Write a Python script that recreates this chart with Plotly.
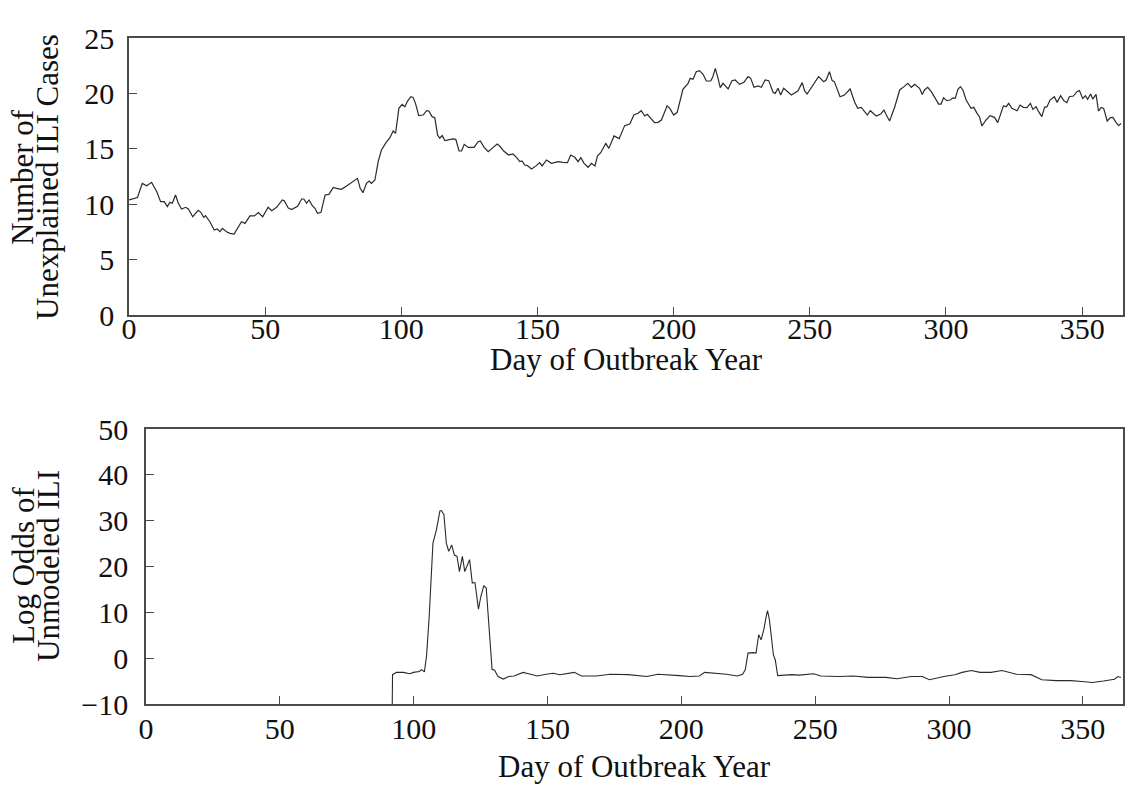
import plotly.graph_objects as go

W, H = 1129, 786

# ---- Top panel: number of unexplained ILI cases ----
top_day = [0.0, 1.6, 3.1, 4.9, 6.5, 8.3, 10.2, 11.6, 12.9, 14.1,
           15.0, 15.9, 17.1, 18.1, 19.3, 20.8, 21.8, 23.4, 25.4, 26.4,
           27.4, 28.1, 29.7, 31.3, 32.4, 33.4, 34.3, 35.8, 37.1, 38.6,
           39.8, 41.3, 42.6, 44.4, 46.0, 47.5, 49.1, 51.1, 52.4, 54.2,
           56.3, 57.0, 58.5, 59.7, 61.9, 63.4, 64.2, 65.2, 66.1, 67.3,
           68.3, 69.2, 70.5, 72.0, 73.4,
           75.0, 76.2, 78.0, 79.9, 81.7, 83.9, 84.9, 85.9, 87.2, 88.2,
           89.0, 90.3, 91.5, 92.7, 94.2, 95.8, 97.0, 97.9, 99.1, 100.3,
           101.3, 102.3, 103.5, 104.3, 105.2, 106.4, 108.0, 109.3, 110.1, 111.3,
           112.3, 113.3, 114.1, 115.0, 116.0, 117.4, 119.0, 120.0, 121.2, 122.1,
           123.1, 124.6, 126.7, 128.2, 129.0, 130.4, 131.9, 133.3, 135.2, 136.1,
           137.6, 139.4, 141.0, 142.3, 143.5, 144.3,
           145.3, 146.3, 147.8, 149.6, 150.8, 151.7, 153.3, 155.1, 157.6, 159.4,
           161.0, 162.2, 163.7, 164.9, 165.9, 167.1, 168.6, 169.8, 171.1, 172.0,
           173.2, 175.1, 176.2, 178.1, 180.0, 182.0, 183.9, 185.4, 186.9, 188.1,
           189.4, 190.3, 191.6, 193.0, 194.3, 195.5, 196.5, 197.6, 198.6, 200.0,
           201.3, 202.2, 203.4, 205.3, 206.1, 207.1, 208.3, 209.5, 210.8, 212.0,
           213.6, 214.4, 215.3, 216.3, 217.1, 218.1,
           220.0, 221.4, 222.6, 224.2, 225.8, 227.3, 228.3, 229.5, 231.0, 232.2,
           233.6, 234.9, 236.5, 237.3, 238.3, 239.3, 240.4, 243.2, 245.6, 247.2,
           248.1, 249.0, 251.1, 253.2, 255.1, 256.0, 257.2, 258.2, 259.0, 261.1,
           262.7, 264.8, 266.4, 267.6, 268.9, 269.8, 271.1, 272.2, 273.4, 274.4,
           276.0, 277.2, 278.1, 279.3, 281.2, 283.0, 284.6, 286.0, 287.3, 288.5,
           290.3, 291.3,
           292.1, 293.3, 294.6, 296.0, 297.3, 298.2, 299.1, 300.3, 301.7, 302.6,
           303.4, 304.4, 305.3, 306.2, 307.4, 309.2, 310.2, 311.4, 312.3, 313.2,
           314.7, 316.2, 317.8, 319.0, 320.0, 321.1, 322.1, 323.0, 324.2, 326.1,
           327.2, 328.4, 329.7, 331.0, 331.9, 333.1, 334.0, 335.2, 336.2, 337.1,
           338.2, 339.8, 340.8, 342.1, 343.3, 344.4, 345.3, 346.8, 348.1, 349.0,
           350.2, 351.2, 352.0, 353.1, 353.9, 355.1, 356.0, 357.0, 357.9, 359.2,
           360.4, 361.3, 362.5, 363.4, 364.3]

top_cases = [10.38, 10.53, 10.6, 11.88, 11.67, 11.97, 11.13, 10.23, 10.23, 9.78,
             10.17, 10.08, 10.83, 10.08, 9.57, 9.72, 9.57, 8.87, 9.45, 9.27,
             8.81, 8.96, 8.42, 7.67, 7.76, 7.52, 7.82, 7.52, 7.37, 7.31,
             7.82, 8.42, 8.27, 8.94, 8.94, 9.24, 8.87, 9.72, 9.42, 9.72,
             10.38, 10.32, 9.66, 9.51, 9.81, 10.47, 10.47, 10.08, 10.38, 9.87,
             9.63, 9.18, 9.27, 10.83, 10.89,
             11.52, 11.43, 11.34, 11.64, 11.94, 12.33, 11.43, 11.04, 11.88, 12.09,
             11.88, 12.18, 13.84, 14.89, 15.49, 16.0, 16.61, 16.4, 18.65, 19.01,
             18.8, 19.31, 19.7, 19.64, 19.1, 17.99, 18.05, 18.44, 18.41, 17.9,
             17.81, 16.25, 15.95, 16.19, 15.74, 15.8, 15.89, 15.86, 14.8, 14.8,
             15.4, 15.13, 15.13, 15.64, 15.7, 15.13, 14.74, 15.04, 15.43, 15.25,
             14.8, 14.44, 14.53, 14.23, 13.84, 13.9,
             13.54, 13.48, 13.18, 13.48, 13.75, 13.45, 13.99, 13.69, 13.84, 13.78,
             13.75, 14.44, 14.23, 13.84, 14.2, 13.69, 13.33, 13.69, 13.45, 14.35,
             14.65, 15.49, 15.04, 16.16, 15.92, 17.09, 17.24, 18.05, 18.2, 18.44,
             17.96, 18.11, 17.75, 17.36, 17.39, 17.6, 18.2, 18.89, 18.65, 18.05,
             18.29, 19.25, 20.37, 20.91, 21.36, 21.27, 21.96, 22.05, 21.72, 21.12,
             21.12, 21.51, 22.26, 21.36, 20.52, 20.91,
             20.4, 21.15, 21.21, 20.82, 21.0, 21.51, 21.36, 20.55, 20.67, 20.55,
             21.21, 21.15, 20.1, 20.0, 20.46, 19.85, 20.46, 19.85, 20.22, 20.97,
             20.22, 19.94, 20.76, 21.51, 21.06, 21.21, 21.96, 21.15, 21.06, 19.7,
             19.85, 20.4, 19.25, 18.65, 18.74, 18.41, 18.05, 18.44, 18.2, 17.96,
             18.14, 18.5, 18.05, 17.51, 18.8, 20.31, 20.61, 20.91, 20.55, 20.82,
             20.46, 19.91,
             20.31, 20.55, 20.16, 19.55, 19.04, 19.04, 19.6, 19.34, 19.43, 19.6,
             19.55, 20.37, 20.61, 20.31, 19.4, 18.65, 18.74, 18.2, 17.9, 17.06,
             17.6, 17.99, 17.84, 17.36, 18.11, 18.89, 18.8, 19.1, 18.65, 18.44,
             18.95, 18.74, 18.71, 19.1, 18.56, 18.8, 18.35, 17.9, 18.74, 18.8,
             19.4, 19.7, 19.19, 19.79, 19.34, 19.16, 19.7, 19.76, 20.16, 20.25,
             19.55, 19.79, 19.46, 19.94, 19.49, 19.91, 18.41, 18.74, 18.65, 17.51,
             17.81, 17.84, 17.36, 17.09, 17.3]

# ---- Bottom panel: log odds of unmodeled ILI ----
bot_day = [92.0, 92.1, 93.6, 96.1, 98.6, 99.9, 102.1, 103.0, 104.0, 104.8,
           105.8, 107.2, 108.5, 109.8, 110.4, 111.3, 112.2, 113.1, 114.2, 115.2,
           116.2, 117.1, 118.2, 119.1, 120.9, 121.9, 122.9, 124.2, 125.1, 126.2,
           127.1, 128.2, 129.3, 130.2, 131.5, 133.5, 135.5, 137.5, 140.9, 142.9,
           146.2, 149.5, 152.2, 154.6, 160.0, 162.7, 168.1, 173.5, 180.3, 187.1,
           191.2, 199.3, 203.3, 206.7, 208.7, 216.9, 220.9, 222.9, 223.9, 224.9,
           226.7, 227.9, 228.9, 229.8, 230.8, 231.7, 232.2, 232.9, 233.6, 234.4,
           235.1, 236.0, 241.2, 244.1, 249.4, 252.1, 258.8, 264.3, 269.7, 276.4,
           280.5, 285.9, 290.0, 292.7, 298.1, 302.2, 304.9, 308.3, 311.6, 315.7,
           319.8, 325.2, 330.6, 334.7, 340.1, 345.5, 349.6, 353.6, 357.7, 361.8,
           363.1, 364.2]

bot_logodds = [-10.0, -3.6, -3.1, -3.1, -3.4, -3.1, -2.9, -2.5, -3.0, 0.4,
               9.1, 25.1, 28.0, 32.1, 32.2, 31.3, 25.1, 23.3, 24.7, 22.5,
               22.2, 18.9, 22.2, 18.9, 21.5, 16.4, 16.5, 10.7, 13.45, 15.85,
               15.3, 5.5, -2.5, -2.6, -4.0, -4.55, -4.0, -3.9, -3.1, -3.4,
               -3.9, -3.5, -3.3, -3.6, -3.1, -3.9, -3.9, -3.5, -3.6, -4.0,
               -3.5, -3.8, -4.0, -3.9, -3.1, -3.5, -3.9, -3.5, -2.5, 1.1,
               1.2, 1.1, 5.1, 4.0, 6.2, 9.1, 10.4, 8.4, 4.4, 0.7,
               -0.4, -3.8, -3.6, -3.7, -3.4, -3.9, -4.0, -3.9, -4.2, -4.2,
               -4.5, -4.0, -4.0, -4.7, -4.0, -3.6, -3.1, -2.7, -3.1, -3.1,
               -2.7, -3.5, -3.6, -4.7, -4.9, -4.9, -5.1, -5.3, -5.0, -4.6,
               -4.0, -4.2]

x_ticks = [0, 50, 100, 150, 200, 250, 300, 350]
top_y_ticks = [0, 5, 10, 15, 20, 25]
bot_y_ticks = [-10, 0, 10, 20, 30, 40, 50]

FONT = "Liberation Serif"
LINE = "#2a2a2a"
AX = "#4a4a4a"

fig = go.Figure()
fig.add_trace(go.Scatter(x=top_day, y=top_cases, mode="lines",
                         line=dict(color=LINE, width=1.2), xaxis="x", yaxis="y",
                         showlegend=False, hoverinfo="skip"))
fig.add_trace(go.Scatter(x=bot_day, y=bot_logodds, mode="lines",
                         line=dict(color=LINE, width=1.1), xaxis="x2", yaxis="y2",
                         showlegend=False, hoverinfo="skip"))

def px_x(p):
    return p / W

def px_y(p):
    return 1 - p / H

axis_common = dict(showline=True, mirror=True, linecolor=AX, linewidth=1.5,
                   ticks="inside", ticklen=8, tickwidth=1.2, tickcolor=AX,
                   showgrid=False, zeroline=False, automargin=False,
                   tickfont=dict(family=FONT, size=30, color="#111"))

fig.update_layout(
    width=W, height=H,
    margin=dict(l=0, r=0, t=0, b=0, autoexpand=False),
    paper_bgcolor="white", plot_bgcolor="white",
    xaxis=dict(domain=[px_x(129), px_x(1123)], range=[0, 365],
               tickvals=x_ticks, anchor="y", ticklabelstandoff=-14, **axis_common),
    yaxis=dict(domain=[px_y(315), px_y(38)], range=[0, 25],
               tickvals=top_y_ticks, anchor="x", ticklabelstandoff=7, **axis_common),
    xaxis2=dict(domain=[px_x(146), px_x(1123)], range=[0, 365],
                tickvals=x_ticks, anchor="y2", ticklabelstandoff=-3, **axis_common),
    yaxis2=dict(domain=[px_y(704), px_y(429)], range=[-10, 50],
                tickvals=bot_y_ticks, anchor="x2", ticklabelstandoff=10, **axis_common),
)

xt_font = dict(family=FONT, size=31, color="#111")
yt_font = dict(family=FONT, size=31, color="#111")
annots = [
    ("Day of Outbreak Year", 626, 359, 0, xt_font),
    ("Day of Outbreak Year", 634, 766, 0, xt_font),
    ("Number of", 22, 177, -90, yt_font),
    ("Unexplained ILI Cases", 47, 177, -90, yt_font),
    ("Log Odds of", 23, 566, -90, yt_font),
    ("Unmodeled ILI", 48, 566, -90, yt_font),
]
for text, x, y, ang, f in annots:
    fig.add_annotation(text=text, x=px_x(x), y=px_y(y), xref="paper", yref="paper",
                       xanchor="center", yanchor="middle", textangle=ang,
                       showarrow=False, font=f)

fig.write_html("out.html")
